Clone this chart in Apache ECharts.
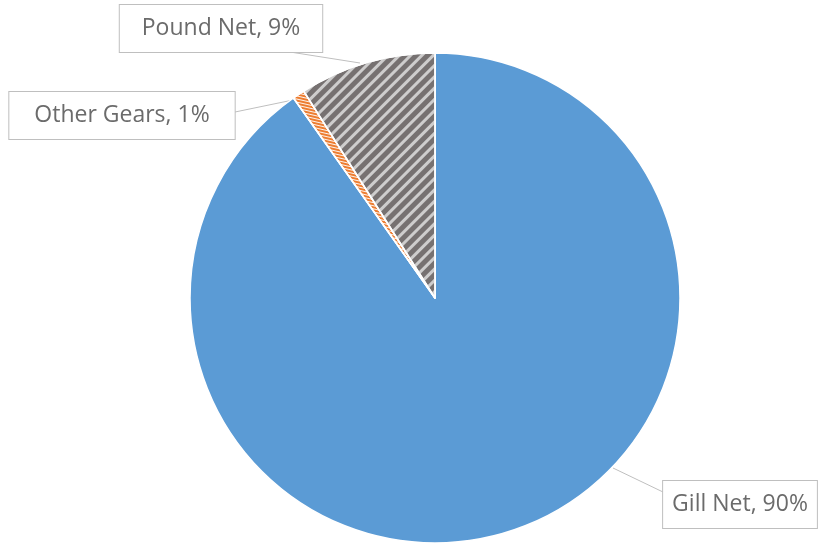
<!DOCTYPE html>
<html>
<head>
<meta charset="utf-8">
<script src="https://cdn.jsdelivr.net/npm/echarts@6/dist/echarts.min.js"></script>
<style>html,body{margin:0;padding:0;background:#fff}#c{width:820px;height:545px}</style>
</head>
<body>
<div id="c"></div>
<script>
const categories = ['Gill Net', 'Other Gears', 'Pound Net'];
const values = [90.2, 0.8, 9.0];

const chart = echarts.init(document.getElementById('c'), null, {renderer: 'canvas'});
const styles = [
  {color: '#5B9BD5'},
  {color: '#ED7D31', decal: {symbol: 'rect', symbolSize: 1, color: 'rgba(255,255,255,0.9)', dashArrayX: [1, 0], dashArrayY: [1, 2], rotation: Math.PI / 14}},
  {color: '#767171', decal: {symbol: 'rect', symbolSize: 1, color: 'rgba(215,215,215,0.9)', dashArrayX: [1, 0], dashArrayY: [2.3, 4.7], rotation: -Math.PI / 4}}
];
const labelPads = [[12, 9], [12, 25], [12, 22]];
const labelPos = [[740, 504.5], [122, 115.5], [221, 28.5]];
const linePts = [
  [[613, 468], [638, 480], [663, 492]],
  [[293, 100], [264, 106], [235, 112]],
  [[360, 63], [325, 57.5], [290, 52]]
];

chart.setOption({
  animation: false,
  series: [{
    type: 'pie',
    center: [435, 298],
    radius: 245,
    startAngle: 90,
    clockwise: true,
    avoidLabelOverlap: false,
    itemStyle: {borderColor: '#fff', borderWidth: 1.5},
    label: {
      show: true,
      formatter: p => p.name + ', ' + Math.round(p.percent) + '%',
      fontFamily: 'Open Sans',
      fontSize: 23,
      color: '#6b6b6b',
      backgroundColor: '#fff',
      borderColor: '#bfbfbf',
      borderWidth: 1,
      padding: [12, 16]
    },
    labelLine: {show: true, length: 20, length2: 20, lineStyle: {color: '#bfbfbf', width: 1}},
    labelLayout: p => ({
      x: labelPos[p.dataIndex][0], y: labelPos[p.dataIndex][1],
      align: 'center', verticalAlign: 'middle',
      labelLinePoints: linePts[p.dataIndex]
    }),
    emphasis: {disabled: true},
    data: categories.map((n, i) => ({name: n, value: values[i], itemStyle: styles[i], label: {padding: labelPads[i]}}))
  }]
});
</script>
</body>
</html>
